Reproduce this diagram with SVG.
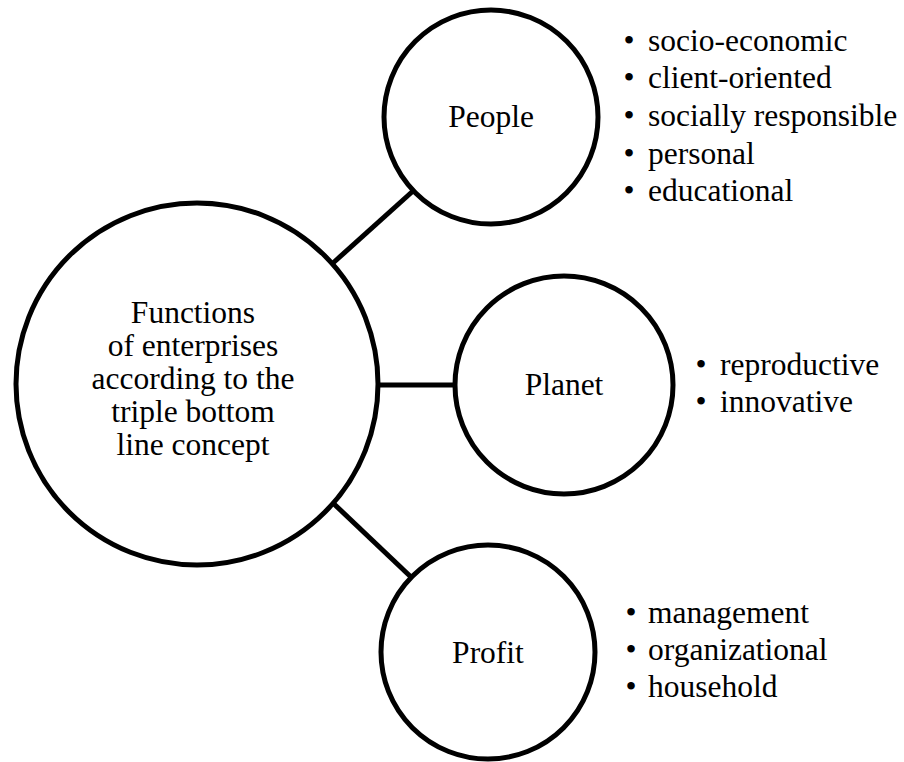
<svg xmlns="http://www.w3.org/2000/svg" width="904" height="762" viewBox="0 0 904 762">
  <style>
    .ring { fill: #ffffff; stroke: #000000; stroke-width: 5; }
    .link { stroke: #000000; stroke-width: 5; fill: none; }
    .t { font-family: 'Liberation Serif', 'DejaVu Serif', serif; font-size: 31.5px; fill: #000000; }
    .mid { text-anchor: middle; }
  </style>
  <rect width="904" height="762" fill="#ffffff"/>

  <!-- connectors from the central circle to the three pillars -->
  <g id="connectors">
    <line class="link" x1="333" y1="263" x2="413" y2="191"/>
    <line class="link" x1="376" y1="385" x2="457" y2="385"/>
    <line class="link" x1="333" y1="503" x2="411" y2="577"/>
  </g>

  <g id="node-functions">
    <circle class="ring" cx="197" cy="384" r="181"/>
    <text class="t mid" x="193" y="323">Functions</text>
    <text class="t mid" x="193" y="356">of enterprises</text>
    <text class="t mid" x="193" y="389">according to the</text>
    <text class="t mid" x="193" y="422">triple bottom</text>
    <text class="t mid" x="193" y="455">line concept</text>
  </g>

  <g id="node-people">
    <circle class="ring" cx="491" cy="117" r="107"/>
    <text class="t mid" x="491" y="127">People</text>
  </g>

  <g id="node-planet">
    <circle class="ring" cx="564" cy="385" r="109"/>
    <text class="t mid" x="564" y="395">Planet</text>
  </g>

  <g id="node-profit">
    <circle class="ring" cx="488" cy="652" r="107"/>
    <text class="t mid" x="488" y="663">Profit</text>
  </g>

  <g id="list-people">
    <text class="t mid" x="629" y="51">•</text><text class="t" x="648" y="51">socio-economic</text>
    <text class="t mid" x="629" y="88">•</text><text class="t" x="648" y="88">client-oriented</text>
    <text class="t mid" x="629" y="126">•</text><text class="t" x="648" y="126">socially responsible</text>
    <text class="t mid" x="629" y="164">•</text><text class="t" x="648" y="164">personal</text>
    <text class="t mid" x="629" y="201">•</text><text class="t" x="648" y="201">educational</text>
  </g>

  <g id="list-planet">
    <text class="t mid" x="701" y="375">•</text><text class="t" x="720" y="375">reproductive</text>
    <text class="t mid" x="701" y="412">•</text><text class="t" x="720" y="412">innovative</text>
  </g>

  <g id="list-profit">
    <text class="t mid" x="631" y="623">•</text><text class="t" x="648" y="623">management</text>
    <text class="t mid" x="631" y="660">•</text><text class="t" x="648" y="660">organizational</text>
    <text class="t mid" x="631" y="697">•</text><text class="t" x="648" y="697">household</text>
  </g>
</svg>
